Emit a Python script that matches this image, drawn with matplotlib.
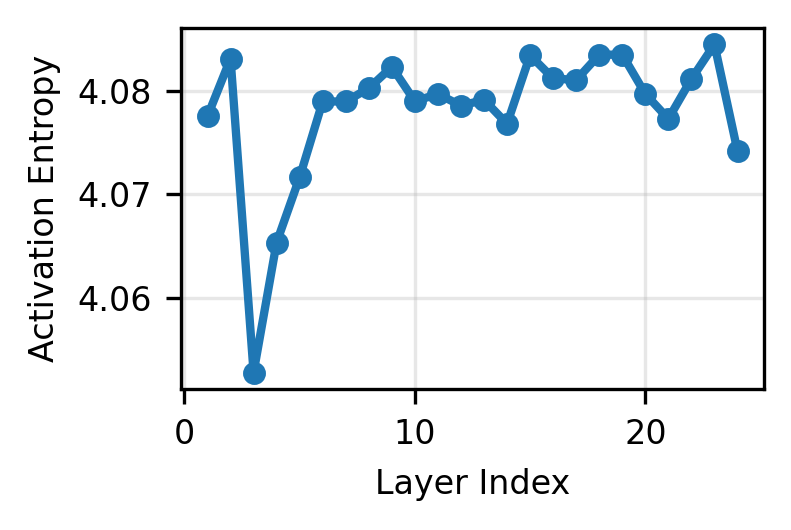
import matplotlib
matplotlib.use("Agg")
from matplotlib import pyplot as plt

layers = list(range(1, 25))
entropy = [4.07755, 4.08312, 4.05280, 4.06536, 4.07166, 4.07898, 4.07898, 4.08026,
           4.08232, 4.07900, 4.07971, 4.07857, 4.07914, 4.07682, 4.08344, 4.08121,
           4.08105, 4.08350, 4.08350, 4.07971, 4.07730, 4.08115, 4.08449, 4.07420]

plt.rcParams["font.size"] = 8

fig, ax = plt.subplots(figsize=(791 / 300, 530 / 300), dpi=300)
ax.plot(layers, entropy, color="#1f77b4", linewidth=2, marker="o", markersize=4.5)
ax.set_xlabel("Layer Index")
ax.set_ylabel("Activation Entropy")
ax.set_xticks([0, 10, 20])
ax.set_yticks([4.06, 4.07, 4.08])
ax.grid(alpha=0.3)
fig.subplots_adjust(left=181 / 791, right=764 / 791, top=1 - 28 / 530, bottom=1 - 389 / 530)
fig.savefig("out.png", dpi=300)
